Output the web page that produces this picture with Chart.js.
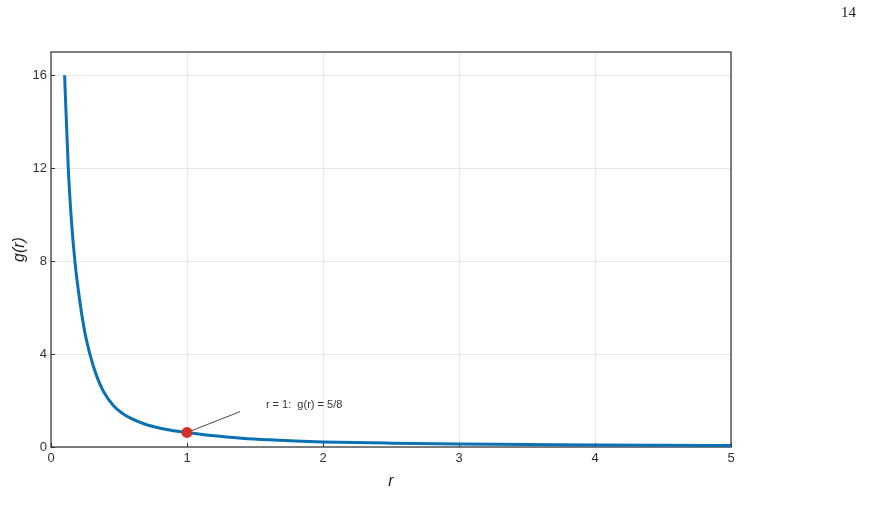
<!DOCTYPE html>
<html>
<head>
<meta charset="utf-8">
<script src="https://cdn.jsdelivr.net/npm/chart.js@4.4.1/dist/chart.umd.min.js"></script>
<style>
  html, body { margin: 0; padding: 0; background: #fff; }
  #wrap { width: 885px; height: 518px; }
</style>
</head>
<body>
<div id="wrap"><canvas id="chart" width="885" height="518"></canvas></div>
<script>
// values
const rValues = [0.10, 0.127, 0.15, 0.176, 0.213, 0.25, 0.287, 0.336, 0.385, 0.458, 0.52, 0.581, 0.703, 0.85, 1.00, 1.20, 1.40, 1.60, 1.80, 2.00, 2.50, 3.00, 3.50, 4.00, 4.50, 5.00];
const gValues = [16.0, 12.0, 9.76, 7.98, 6.23, 4.90, 3.98, 3.05, 2.40, 1.79, 1.47, 1.25, 0.958, 0.755, 0.625, 0.48, 0.38, 0.31, 0.26, 0.22, 0.165, 0.13, 0.105, 0.087, 0.073, 0.062];

const markerR = [1];
const markerG = [0.625];
const markerText = 'r = 1:  g(r) = 5/8';

const xTicks = [0, 1, 2, 3, 4, 5];
const yTicks = [0, 4, 8, 12, 16];
const xLabel = 'r';
const yLabel = 'g(r)';
const pageNumber = '14';

const FONT = "'Liberation Sans', Arial, Helvetica, sans-serif";
const BLUE = '#0b71b3';
const RED = '#d22f2f';

const curve = rValues.map((r, i) => ({ x: r, y: gValues[i] }));
const marker = markerR.map((r, i) => ({ x: r, y: markerG[i] }));

// frame, inward ticks, leader line, label, page number
const decor = {
  id: 'decor',
  beforeDatasetsDraw(chart) {
    const { ctx, chartArea: a, scales: { x, y } } = chart;
    ctx.save();
    ctx.strokeStyle = '#555';
    ctx.lineWidth = 1.5;
    ctx.strokeRect(a.left, a.top, a.right - a.left, a.bottom - a.top);
    ctx.strokeStyle = '#333';
    ctx.lineWidth = 1;
    ctx.beginPath();
    yTicks.forEach(v => {
      const py = Math.round(y.getPixelForValue(v)) + 0.5;
      ctx.moveTo(a.left, py); ctx.lineTo(a.left + 4, py);
    });
    xTicks.forEach(v => {
      const px = Math.round(x.getPixelForValue(v)) + 0.5;
      ctx.moveTo(px, a.bottom); ctx.lineTo(px, a.bottom - 4);
    });
    ctx.stroke();
    ctx.restore();
  },
  afterDatasetsDraw(chart) {
    const { ctx, scales: { x, y } } = chart;
    const px = x.getPixelForValue(markerR[0]);
    const py = y.getPixelForValue(markerG[0]);
    ctx.save();
    ctx.strokeStyle = '#333';
    ctx.lineWidth = 0.9;
    ctx.beginPath();
    ctx.moveTo(px + 5, py - 2);
    ctx.lineTo(x.getPixelForValue(1.39), y.getPixelForValue(1.52));
    ctx.stroke();
    ctx.fillStyle = '#333';
    ctx.font = '11px ' + FONT;
    ctx.textBaseline = 'middle';
    ctx.fillText(markerText, x.getPixelForValue(1.58), y.getPixelForValue(1.8));
    ctx.font = "15px 'Liberation Serif', 'DejaVu Serif', serif";
    ctx.fillStyle = '#222';
    ctx.textAlign = 'right';
    ctx.fillText(pageNumber, 856, 13);
    ctx.restore();
  }
};

new Chart(document.getElementById('chart'), {
  type: 'scatter',
  data: {
    datasets: [
      {
        data: curve, showLine: true, borderColor: BLUE, borderWidth: 3,
        pointRadius: 0, cubicInterpolationMode: 'monotone', order: 2
      },
      {
        data: marker, pointRadius: 5.5, pointHoverRadius: 5.5,
        backgroundColor: RED, borderColor: RED, borderWidth: 0, order: 1
      }
    ]
  },
  options: {
    responsive: false,
    animation: false,
    events: [],
    layout: { padding: { left: 0, right: 154, top: 52, bottom: 0 } },
    plugins: { legend: { display: false }, tooltip: { enabled: false } },
    scales: {
      x: {
        type: 'linear', min: 0, max: 5,
        afterFit(s) { s.height = 71; },
        afterBuildTicks(s) { s.ticks = xTicks.map(v => ({ value: v })); },
        grid: { color: '#e6e6e6', lineWidth: 1, drawTicks: false },
        border: { display: false },
        ticks: { color: '#333', font: { family: FONT, size: 13 }, padding: 4, maxRotation: 0 },
        title: {
          display: true, text: xLabel, color: '#222',
          font: { family: FONT, size: 16, style: 'italic' },
          padding: { top: 0, bottom: 27 }
        }
      },
      y: {
        type: 'linear', min: 0, max: 17,
        afterFit(s) { s.width = 51; },
        afterBuildTicks(s) { s.ticks = yTicks.map(v => ({ value: v })); },
        grid: { color: '#e6e6e6', lineWidth: 1, drawTicks: false },
        border: { display: false },
        ticks: { color: '#333', font: { family: FONT, size: 13 }, padding: 4 },
        title: {
          display: true, text: yLabel, color: '#222',
          font: { family: FONT, size: 16, style: 'italic' },
          padding: { top: 10, bottom: 0 }
        }
      }
    }
  },
  plugins: [decor]
});
</script>
</body>
</html>
